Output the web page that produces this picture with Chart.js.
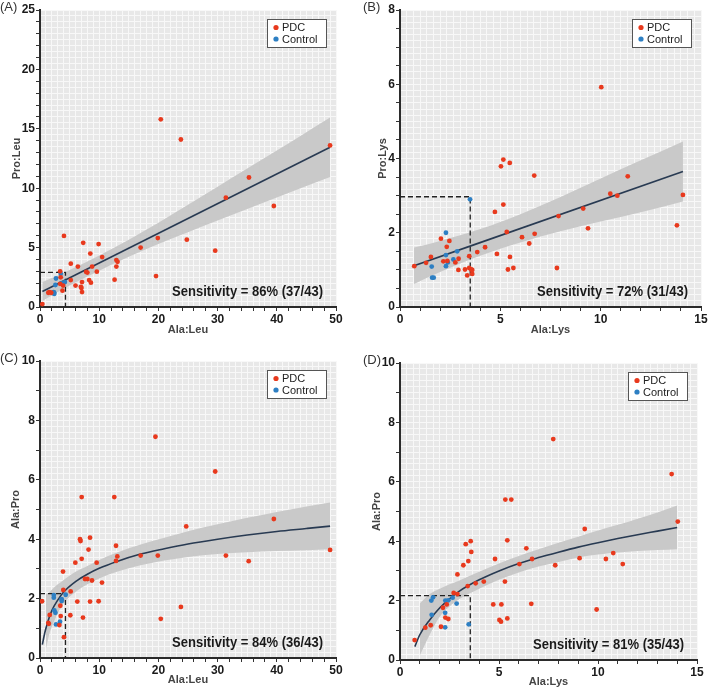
<!DOCTYPE html>
<html>
<head>
<meta charset="utf-8">
<script src="https://cdn.jsdelivr.net/npm/chart.js@4.4.1/dist/chart.umd.min.js"></script>
<style>
  html, body { margin: 0; padding: 0; background: #fff; }
  #wrap { position: relative; width: 709px; height: 689px; overflow: hidden; }
  #wrap canvas { position: absolute; }
  .tag { position: absolute; font: 13px "Liberation Sans", Arial, sans-serif; color: #333; }
</style>
</head>
<body>
<div id="wrap">
  <canvas id="chartA" width="350" height="340" style="left:0;top:0"></canvas>
  <canvas id="chartB" width="359" height="340" style="left:350px;top:0"></canvas>
  <canvas id="chartC" width="350" height="349" style="left:0;top:340px"></canvas>
  <canvas id="chartD" width="359" height="349" style="left:350px;top:340px"></canvas>
  <div class="tag" style="left:0;top:-1px">(A)</div>
  <div class="tag" style="left:363px;top:-1px">(B)</div>
  <div class="tag" style="left:0;top:350px">(C)</div>
  <div class="tag" style="left:363px;top:352px">(D)</div>
</div>
<script>
// (A) Pro:Leu vs Ala:Leu
const aPdcX = [0.4, 20.4, 23.8, 49, 35.3, 31.4, 39.5, 19.9, 24.8, 17, 29.6, 19.6, 4.05, 7.3, 9.9, 8.5, 10.5, 5.2, 6.4, 8.8, 12.9, 13.1, 12.9, 7.8, 8.0, 9.6, 3.4, 3.5, 5.2, 8.3, 8.6, 7.1, 12.6, 6.0, 6.9, 7.0, 7.1, 3.8, 3.9, 1.6, 1.9, 3.4, 1.4];
const aPdcY = [0.25, 15.8, 14.1, 13.6, 10.9, 9.2, 8.5, 5.8, 5.67, 5.0, 4.74, 2.6, 5.98, 5.4, 5.3, 4.5, 4.2, 3.65, 3.4, 3.4, 3.95, 3.8, 3.4, 2.95, 2.9, 2.97, 3.0, 2.5, 2.27, 2.27, 2.05, 2.1, 2.3, 1.8, 1.7, 1.6, 1.26, 1.37, 1.8, 1.26, 1.2, 1.95, 1.2];
const aCtrlX = [3.5, 2.7, 2.6, 3.6, 3.9, 4.2, 2.4, 2.4, 2.3];
const aCtrlY = [2.8, 2.4, 1.85, 2.0, 1.95, 2.1, 1.2, 1.1, 1.25];
const aFitX = [0.4, 49];
const aFitY = [1.3, 13.45];
const aBandX = [0.4, 5, 10, 15, 20, 25, 30, 35, 40, 45, 49];
const aBandLo = [0.5, 1.8, 3.06, 4.23, 5.3, 6.3, 7.28, 8.25, 9.22, 10.18, 10.95];
const aBandHi = [2.1, 3.12, 4.34, 5.67, 7.1, 8.6, 10.12, 11.65, 13.18, 14.72, 15.95];
const aCut = [4.3, 2.92];

// (B) Pro:Lys vs Ala:Lys
const bPdcX = [10.03, 5.15, 5.03, 5.47, 6.69, 11.35, 10.48, 10.83, 14.1, 5.15, 4.73, 9.13, 7.9, 5.32, 6.71, 9.37, 13.8, 6.08, 6.44, 4.24, 3.85, 4.83, 5.48, 3.45, 2.04, 2.46, 2.33, 1.54, 0.71, 1.3, 2.16, 2.36, 2.92, 2.76, 2.91, 3.24, 3.45, 3.55, 3.6, 3.35, 3.6, 5.38, 5.65, 7.82];
const bPdcY = [5.92, 3.97, 3.79, 3.88, 3.54, 3.52, 3.05, 3.0, 3.02, 2.76, 2.56, 2.65, 2.45, 2.02, 1.97, 2.12, 2.2, 1.88, 1.71, 1.61, 1.48, 1.43, 1.35, 1.37, 1.84, 1.78, 1.62, 1.35, 1.10, 1.19, 1.23, 1.24, 1.3, 1.2, 1.0, 1.01, 1.05, 1.01, 1.0, 0.85, 0.89, 1.01, 1.05, 1.05];
const bCtrlX = [3.49, 2.29, 2.85, 2.29, 2.66, 2.38, 2.29, 1.58, 1.6, 1.68];
const bCtrlY = [2.9, 2.0, 1.5, 1.4, 1.28, 1.2, 1.1, 1.09, 0.79, 0.79];
const bFitX = [0.7, 14.1];
const bFitY = [1.11, 3.65];
const bBandX = [0.7, 2, 4, 6, 8, 10, 12, 14.1];
const bBandLo = [0.62, 0.94, 1.38, 1.74, 2.04, 2.3, 2.55, 2.84];
const bBandHi = [1.6, 1.78, 2.1, 2.5, 2.96, 3.46, 3.95, 4.46];
const bCut = [3.5, 2.97];

// (C) Ala:Pro vs Ala:Leu
const cPdcX = [0.34, 19.5, 29.6, 7.04, 12.55, 39.5, 24.7, 6.76, 6.85, 8.45, 12.84, 8.2, 7.04, 49, 17.0, 19.9, 31.4, 13.06, 12.84, 35.25, 5.97, 9.57, 3.89, 7.6, 8.0, 8.78, 10.47, 3.94, 5.18, 6.3, 8.45, 9.9, 3.43, 23.8, 1.64, 3.5, 5.12, 7.26, 20.4, 1.4, 1.5, 3.27, 4.05];
const cPdcY = [1.91, 7.45, 6.28, 5.42, 5.42, 4.68, 4.43, 4.0, 3.94, 4.05, 3.78, 3.65, 3.34, 3.64, 3.45, 3.45, 3.45, 3.42, 3.27, 3.26, 3.21, 3.21, 2.91, 2.66, 2.66, 2.61, 2.54, 2.29, 2.24, 1.9, 1.9, 1.91, 1.76, 1.72, 1.45, 1.41, 1.44, 1.36, 1.32, 1.18, 1.15, 1.11, 0.7];
const cCtrlX = [2.33, 2.33, 3.66, 3.66, 4.34, 2.43, 2.6, 2.7, 3.38];
const cCtrlY = [2.12, 2.03, 1.98, 1.92, 2.13, 1.6, 1.52, 1.13, 1.22];
const cFitX = [0.4, 0.7, 1, 1.5, 2, 3, 4, 6, 8, 10, 13, 17, 21, 25, 30, 35, 40, 45, 49];
const cFitY = [0.45, 0.75, 1.0, 1.33, 1.6, 1.95, 2.22, 2.57, 2.82, 3.02, 3.25, 3.5, 3.68, 3.84, 4.0, 4.14, 4.26, 4.36, 4.44];
const cBandX = [1, 1.5, 2, 3, 4, 6, 8, 10, 13, 17, 21, 25, 30, 35, 40, 45, 49];
const cBandLo = [0.3, 0.75, 1.05, 1.5, 1.84, 2.22, 2.48, 2.68, 2.9, 3.12, 3.28, 3.4, 3.5, 3.56, 3.6, 3.63, 3.66];
const cBandHi = [2.15, 2.2, 2.3, 2.48, 2.63, 2.9, 3.1, 3.3, 3.55, 3.82, 4.05, 4.27, 4.5, 4.72, 4.92, 5.1, 5.24];
const cCut = [4.3, 2.17];

// (D) Ala:Pro vs Ala:Lys
const dPdcX = [0.74, 7.74, 13.72, 5.32, 5.62, 14.03, 9.33, 5.42, 3.57, 3.32, 3.6, 6.38, 10.77, 3.45, 3.2, 4.8, 6.67, 9.07, 10.4, 6.03, 7.84, 11.25, 2.9, 4.23, 3.82, 5.3, 3.42, 2.71, 2.9, 2.17, 2.36, 4.71, 5.12, 6.63, 9.93, 1.55, 1.28, 2.07, 2.29, 2.44, 5.02, 5.1, 5.42];
const dPdcY = [0.67, 7.44, 6.26, 5.4, 5.4, 4.66, 4.41, 4.03, 4.0, 3.9, 3.64, 3.76, 3.6, 3.33, 3.19, 3.4, 3.4, 3.43, 3.4, 3.23, 3.19, 3.23, 2.88, 2.64, 2.58, 2.64, 2.49, 2.26, 2.22, 1.76, 1.87, 1.87, 1.87, 1.89, 1.7, 1.17, 1.09, 1.12, 1.43, 1.38, 1.35, 1.29, 1.4];
const dCtrlX = [1.58, 1.67, 2.29, 2.44, 2.66, 2.86, 1.6, 2.28, 2.28, 3.47];
const dCtrlY = [2.0, 2.11, 2.0, 2.01, 2.1, 1.9, 1.52, 1.59, 1.1, 1.2];
const dFitX = [0.75, 1, 1.5, 2, 2.5, 3, 4, 5, 6, 7, 8, 9, 10, 11, 12, 13, 14];
const dFitY = [0.45, 0.85, 1.35, 1.75, 2.06, 2.32, 2.7, 3.0, 3.25, 3.45, 3.63, 3.8, 3.95, 4.09, 4.22, 4.34, 4.46];
const dBandX = [1, 1.5, 2, 2.5, 3, 4, 5, 6, 7, 8, 9, 10, 11, 12, 13, 14];
const dBandLo = [0.15, 0.85, 1.45, 1.8, 2.05, 2.4, 2.7, 2.95, 3.15, 3.3, 3.45, 3.55, 3.62, 3.67, 3.7, 3.73];
const dBandHi = [1.9, 2.22, 2.4, 2.55, 2.68, 2.97, 3.25, 3.5, 3.73, 3.95, 4.15, 4.36, 4.55, 4.76, 4.97, 5.2];
const dCut = [3.55, 2.17];

const sensA = 'Sensitivity = 86% (37/43)';
const sensB = 'Sensitivity = 72% (31/43)';
const sensC = 'Sensitivity = 84% (36/43)';
const sensD = 'Sensitivity = 81% (35/43)';

const FONT = '"Liberation Sans", Arial, sans-serif';
const RED = '#e8391d';
const BLUE = '#2d7fc3';
const NAVY = '#283a52';
const BAND = '#c9c9c9';
const BG = '#e8e8e8';

const pts = (xs, ys) => xs.map((x, i) => ({ x: x, y: ys[i] }));
const onStep = (v, s) => Math.abs(v / s - Math.round(v / s)) < 1e-6;

function tickValues(min, max, step) {
  const out = [];
  const n = Math.round((max - min) / step);
  for (let i = 0; i <= n; i++) out.push(+(min + i * step).toFixed(6));
  return out;
}

function axis(o) {
  return {
    type: 'linear',
    min: o.min,
    max: o.max,
    afterBuildTicks: s => { s.ticks = tickValues(o.min, o.max, o.step).map(v => ({ value: v })); },
    afterFit: s => {
      if (o.width) s.width = o.width;
      if (o.height) s.height = o.height;
    },
    grid: {
      color: '#f8f8f8',
      lineWidth: 1,
      tickLength: 4,
      tickColor: c => (c.tick && onStep(c.tick.value, o.mark)) ? '#333' : 'rgba(0,0,0,0)'
    },
    border: { color: '#2b2b2b', width: 2 },
    ticks: {
      autoSkip: false,
      maxRotation: 0,
      padding: 1,
      color: '#1a1a1a',
      font: { family: FONT, size: 12, weight: 'bold' },
      callback: v => onStep(v, o.major) ? String(Math.round(v)) : ''
    },
    title: {
      display: true,
      text: o.title,
      color: '#444',
      font: { family: FONT, size: 11, weight: 'bold' },
      padding: o.titlePad
    }
  };
}

function decor(sens) {
  return {
    id: 'decor',
    beforeDraw(chart) {
      const { ctx, chartArea: a } = chart;
      ctx.save();
      ctx.fillStyle = BG;
      ctx.fillRect(a.left, a.top, a.right - a.left, a.bottom - a.top);
      ctx.restore();
    },
    afterDraw(chart) {
      const { ctx, chartArea: a } = chart;
      // legend box
      const bw = 59, bh = 28;
      const bx = a.right - 10 - bw, by = a.top + 9;
      ctx.save();
      ctx.fillStyle = '#fff';
      ctx.fillRect(bx, by, bw, bh);
      ctx.strokeStyle = '#555';
      ctx.lineWidth = 1;
      ctx.strokeRect(bx + 0.5, by + 0.5, bw, bh);
      ctx.font = '11px ' + FONT;
      ctx.textBaseline = 'middle';
      chart.data.datasets.slice(0, 2).forEach((ds, i) => {
        const cy = by + 8.5 + i * 11.5;
        ctx.fillStyle = ds.backgroundColor;
        ctx.beginPath();
        ctx.arc(bx + 9, cy, 2.6, 0, Math.PI * 2);
        ctx.fill();
        ctx.fillStyle = '#222';
        ctx.fillText(ds.label, bx + 15, cy + 0.5);
      });
      // sensitivity note
      ctx.font = 'bold 15px ' + FONT;
      ctx.textBaseline = 'alphabetic';
      const tw = 151;
      const sx = tw / ctx.measureText(sens).width;
      ctx.translate(a.right - 13 - tw, a.bottom - 11);
      ctx.scale(sx, 1);
      ctx.fillStyle = '#1a1a1a';
      ctx.fillText(sens, 0, 0);
      ctx.restore();
    }
  };
}

function makePanel(id, p) {
  const lineDs = (data, extra) => Object.assign({
    type: 'line', data: data, showLine: true, pointRadius: 0, fill: false, tension: 0
  }, extra);
  new Chart(document.getElementById(id), {
    type: 'scatter',
    data: {
      datasets: [
        { label: 'PDC', data: pts(p.pdcX, p.pdcY), backgroundColor: RED, pointRadius: 2.4, borderWidth: 0, order: 0 },
        { label: 'Control', data: pts(p.ctrlX, p.ctrlY), backgroundColor: BLUE, pointRadius: 2.4, borderWidth: 0, order: 0 },
        lineDs(pts(p.fitX, p.fitY), { label: 'fit', borderColor: NAVY, borderWidth: 1.6, cubicInterpolationMode: 'monotone', order: 1 }),
        lineDs([{ x: 0, y: p.cut[1] }, { x: p.cut[0], y: p.cut[1] }, { x: p.cut[0], y: 0 }],
          { label: 'cut', borderColor: '#222', borderWidth: 1.3, borderDash: [5, 3], order: 2 }),
        lineDs(pts(p.bandX, p.bandLo), { label: 'lo', borderWidth: 0, borderColor: BAND, cubicInterpolationMode: 'monotone', order: 3 }),
        lineDs(pts(p.bandX, p.bandHi), { label: 'hi', borderWidth: 0, borderColor: BAND, backgroundColor: BAND, fill: '-1', cubicInterpolationMode: 'monotone', order: 3 })
      ]
    },
    options: {
      responsive: false,
      animation: false,
      devicePixelRatio: 1,
      layout: { padding: { top: p.padTop, right: p.padRight, left: 0, bottom: 0 } },
      plugins: { legend: { display: false }, tooltip: { enabled: false } },
      scales: {
        x: axis(p.x),
        y: axis(p.y)
      }
    },
    plugins: [decor(p.sens)]
  });
}

makePanel('chartA', {
  pdcX: aPdcX, pdcY: aPdcY, ctrlX: aCtrlX, ctrlY: aCtrlY,
  fitX: aFitX, fitY: aFitY, bandX: aBandX, bandLo: aBandLo, bandHi: aBandHi, cut: aCut, sens: sensA,
  padTop: 10, padRight: 14,
  x: { min: 0, max: 50, step: 1, mark: 2, major: 10, height: 33, title: 'Ala:Leu', titlePad: { top: 0, bottom: 3.4 } },
  y: { min: 0, max: 25, step: 0.5, mark: 1, major: 5, width: 40, title: 'Pro:Leu', titlePad: { top: 10, bottom: 0 } }
});

makePanel('chartB', {
  pdcX: bPdcX, pdcY: bPdcY, ctrlX: bCtrlX, ctrlY: bCtrlY,
  fitX: bFitX, fitY: bFitY, bandX: bBandX, bandLo: bBandLo, bandHi: bBandHi, cut: bCut, sens: sensB,
  padTop: 10, padRight: 8,
  x: { min: 0, max: 15, step: 1 / 3, mark: 1, major: 5, height: 33, title: 'Ala:Lys', titlePad: { top: 0, bottom: 3.4 } },
  y: { min: 0, max: 8, step: 1 / 6, mark: 0.5, major: 2, width: 50, title: 'Pro:Lys', titlePad: { top: 26.5, bottom: 0 } }
});

makePanel('chartC', {
  pdcX: cPdcX, pdcY: cPdcY, ctrlX: cCtrlX, ctrlY: cCtrlY,
  fitX: cFitX, fitY: cFitY, bandX: cBandX, bandLo: cBandLo, bandHi: cBandHi, cut: cCut, sens: sensC,
  padTop: 21, padRight: 14,
  x: { min: 0, max: 50, step: 1, mark: 2, major: 10, height: 31, title: 'Ala:Leu', titlePad: { top: 0, bottom: 2.4 } },
  y: { min: 0, max: 10, step: 0.2, mark: 1, major: 2, width: 40, title: 'Ala:Pro', titlePad: { top: 9.4, bottom: 0 } }
});

makePanel('chartD', {
  pdcX: dPdcX, pdcY: dPdcY, ctrlX: dCtrlX, ctrlY: dCtrlY,
  fitX: dFitX, fitY: dFitY, bandX: dBandX, bandLo: dBandLo, bandHi: dBandHi, cut: dCut, sens: sensD,
  padTop: 23, padRight: 12,
  x: { min: 0, max: 15, step: 1 / 3, mark: 1, major: 5, height: 29, title: 'Ala:Lys', titlePad: { top: 0, bottom: 0.7 } },
  y: { min: 0, max: 10, step: 0.2, mark: 1, major: 2, width: 50, title: 'Ala:Pro', titlePad: { top: 20, bottom: 0 } }
});
</script>
</body>
</html>
